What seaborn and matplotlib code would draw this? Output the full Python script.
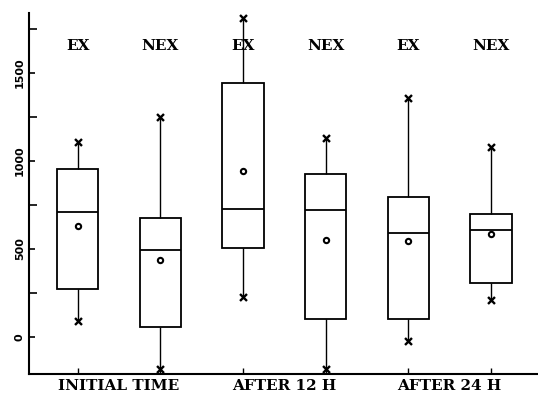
import numpy as np
import pandas as pd
import seaborn as sns
import matplotlib.pyplot as plt
from matplotlib.ticker import FixedLocator
import matplotlib.transforms as mtransforms

groups = ["EX_0", "NEX_0", "EX_12", "NEX_12", "EX_24", "NEX_24"]
top_labels = ["EX", "NEX", "EX", "NEX", "EX", "NEX"]
time_labels = ["INITIAL TIME", "AFTER 12 H", "AFTER 24 H"]
mins = [90, -180, 225, -180, -25, 210]
q1 = [275, 55, 505, 105, 105, 305]
medians = [710, 495, 725, 720, 590, 605]
q3 = [955, 675, 1445, 925, 795, 700]
maxs = [1110, 1250, 1810, 1130, 1355, 1080]
means = [630, 440, 945, 550, 545, 585]

sns.set_style("ticks")
plt.rcParams['font.family'] = ['DejaVu Sans']
plt.rcParams['text.color'] = 'black'
plt.rcParams['xtick.color'] = 'black'
plt.rcParams['ytick.color'] = 'black'

rows = []
for g, a, b, c, d, e in zip(groups, mins, q1, medians, q3, maxs):
    for v in (a, b, c, d, e):
        rows.append({"group": g, "value": v})
df = pd.DataFrame(rows)
df_ext = pd.DataFrame({"group": groups * 2, "value": mins + maxs})
df_mean = pd.DataFrame({"group": groups, "value": means})

fig = plt.figure(figsize=(5.38, 3.95), dpi=100)
ax = fig.add_axes([29/538, 1-374/395, 1-29/538, (374-13)/395])

sns.boxplot(data=df, x="group", y="value", order=groups, whis=(0, 100),
            width=0.5, showfliers=False, showcaps=False, color="white",
            linecolor="black", linewidth=1.3, ax=ax,
            whiskerprops=dict(linewidth=1.0))
sns.stripplot(data=df_ext, x="group", y="value", order=groups, jitter=False,
              marker="x", color="black", linewidth=1.7, size=5, ax=ax, zorder=5)
sns.stripplot(data=df_mean, x="group", y="value", order=groups, jitter=False,
              marker="o", color="white", edgecolor="black", linewidth=1.5,
              size=3.8, ax=ax, zorder=5)

ax.set_xlim(-0.59, 5.57)
ax.set_ylim(-210, 1840)
ax.set_xlabel("")
ax.set_ylabel("")
for s in ("top", "right"):
    ax.spines[s].set_visible(False)
for s in ("left", "bottom"):
    ax.spines[s].set_linewidth(1.5)
    ax.spines[s].set_color("black")

ax.set_yticks([0, 500, 1000, 1500])
ax.yaxis.set_minor_locator(FixedLocator([250, 750, 1250, 1750]))
ax.tick_params(axis="y", which="major", direction="in", length=4, width=1.2,
               pad=3, labelsize=8, labelcolor="black")
ax.tick_params(axis="y", which="minor", direction="in", length=6, width=1.2)
for lab in ax.get_yticklabels():
    lab.set_rotation(90)
    lab.set_va("center")
    lab.set_fontweight("bold")
ax.set_xticks(range(6))
ax.set_xticklabels([""] * 6)
ax.tick_params(axis="x", direction="in", length=4, width=1.0)

for i, t in enumerate(top_labels):
    ax.text(i, 1650, t, ha="center", va="center", fontsize=11, color="black",
            family="DejaVu Serif", fontweight="bold")
trans = mtransforms.blended_transform_factory(ax.transData, ax.transAxes)
for i, t in enumerate(time_labels):
    ax.text(2 * i + 0.5, -0.015, t, ha="center", va="top", fontsize=11,
            color="black", family="DejaVu Serif", fontweight="bold",
            transform=trans)

fig.savefig("out.png", dpi=100)
